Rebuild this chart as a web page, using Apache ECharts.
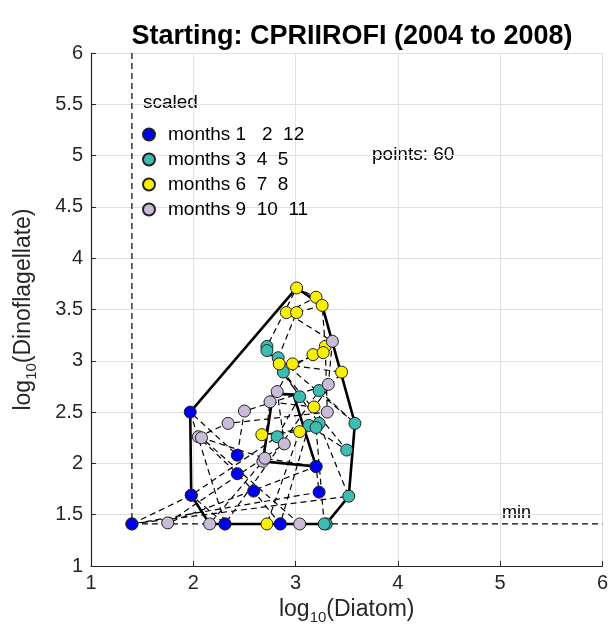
<!DOCTYPE html>
<html>
<head>
<meta charset="utf-8">
<script src="https://cdn.jsdelivr.net/npm/echarts@6/dist/echarts.min.js"></script>
<style>
html,body{margin:0;padding:0;background:#fff;}
#main{width:611px;height:633px;}
</style>
</head>
<body>
<div id="main"></div>
<script>
// log10 values, 5 years x 12 months, in time order
var diatom = [
  1.40, 1.98, 2.82, 3.04, 2.72, 3.01, 3.20, 2.91, 3.36, 3.32, 2.50, 2.43,
  1.97, 2.31, 3.23, 3.58, 2.83, 3.01, 3.26, 3.29, 3.31, 2.34, 2.05, 2.43,
  2.59, 2.85, 3.13, 3.50, 2.88, 3.17, 3.27, 2.97, 2.82, 2.89, 1.75, 3.20,
  3.23, 1.40, 3.52, 3.23, 2.72, 2.84, 3.45, 3.18, 2.75, 2.68, 2.16, 1.98,
  2.31, 2.85, 3.30, 3.28, 3.20, 2.67, 3.04, 2.72, 3.04, 2.08, 2.70, 3.20
];
var dino = [
  1.41, 1.69, 2.26, 2.65, 3.14, 3.71, 3.62, 3.47, 3.19, 2.77, 2.51, 2.08,
  2.50, 1.41, 2.71, 2.39, 3.03, 3.47, 3.54, 3.14, 2.50, 2.39, 2.26, 1.90,
  1.73, 1.41, 2.37, 2.13, 2.89, 3.06, 3.08, 2.97, 2.70, 2.19, 1.42, 1.97,
  1.72, 1.41, 1.68, 2.39, 3.10, 2.97, 2.89, 2.55, 2.60, 2.02, 1.41, 1.69,
  1.41, 1.41, 1.41, 1.41, 2.35, 2.28, 2.31, 1.41, 1.41, 2.25, 2.05, 1.97
];
var months = [1,2,3,4,5,6,7,8,9,10,11,12];

var seasonNames = ['months 1   2  12', 'months 3  4  5', 'months 6  7  8', 'months 9  10  11'];
var seasonMonths = [[1,2,12], [3,4,5], [6,7,8], [9,10,11]];
var seasonColors = ['#0000f0', '#3dbcb2', '#f8f000', '#c8bcd8'];

var hullX = [1.97, 3.01, 3.26, 3.58, 3.52, 3.30, 2.16, 1.98, 1.97];
var hullY = [2.50, 3.71, 3.54, 2.39, 1.68, 1.41, 1.41, 1.69, 2.50];
var innerX = [2.68, 2.78, 2.98, 3.20, 2.68];
var innerY = [2.02, 2.68, 2.67, 1.97, 2.02];

var minX = 1.40, minY = 1.41;
var xTicks = [1, 2, 3, 4, 5, 6];
var yTicks = [1, 1.5, 2, 2.5, 3, 3.5, 4, 4.5, 5, 5.5, 6];

var font = 'Liberation Sans, Arial, Helvetica, sans-serif';

function pairs(xs, ys) {
  var out = [];
  for (var i = 0; i < xs.length; i++) out.push([xs[i], ys[i]]);
  return out;
}

var track = pairs(diatom, dino);

var series = [];
series.push({
  type: 'line', name: 'track', data: track, symbol: 'none', silent: true, z: 1,
  lineStyle: {color: '#000', width: 1.2, type: [6, 4]}
});
series.push({
  type: 'line', name: 'minx', data: [[minX, minY], [xTicks[xTicks.length - 1], minY]], symbol: 'none', silent: true, z: 1,
  lineStyle: {color: '#000', width: 1.2, type: [6, 4]}
});
series.push({
  type: 'line', name: 'miny', data: [[minX, yTicks[yTicks.length - 1]], [minX, minY]], symbol: 'none', silent: true, z: 1,
  lineStyle: {color: '#000', width: 1.2, type: [6, 4]}
});
series.push({
  type: 'line', name: 'hull', data: pairs(hullX, hullY), symbol: 'none', silent: true, z: 2,
  lineStyle: {color: '#000', width: 2.6}
});
series.push({
  type: 'line', name: 'inner', data: pairs(innerX, innerY), symbol: 'none', silent: true, z: 2,
  lineStyle: {color: '#000', width: 2.6}
});

for (var s = 0; s < seasonNames.length; s++) {
  var pts = [];
  for (var i = 0; i < track.length; i++) {
    if (seasonMonths[s].indexOf(months[i % 12]) >= 0) pts.push(track[i]);
  }
  series.push({
    type: 'scatter', name: seasonNames[s], data: pts, symbol: 'circle', symbolSize: 12, z: 3,
    itemStyle: {color: seasonColors[s], borderColor: '#222', borderWidth: 1, opacity: 1}
  });
}

var nameRich = {
  a: {fontFamily: font, fontSize: 23, color: '#262626'},
  b: {fontFamily: font, fontSize: 15, color: '#262626', padding: [16, 0, 0, 0]}
};

var chart = echarts.init(document.getElementById('main'));
chart.setOption({
  animation: false,
  backgroundColor: '#fff',
  title: {
    text: 'Starting: CPRIIROFI (2004 to 2008)',
    left: 347, top: 18, textAlign: 'center',
    textStyle: {fontFamily: font, fontSize: 27, fontWeight: 'bold', color: '#000'}
  },
  legend: {
    data: seasonNames,
    orient: 'vertical', left: 137, top: 120,
    itemWidth: 12, itemHeight: 12, itemGap: 6,
    icon: 'circle',
    selectedMode: false,
    textStyle: {fontFamily: font, fontSize: 19, color: '#000', padding: [0, 0, 0, 8]}
  },
  grid: {left: 91, right: 8, top: 53, bottom: 67},
  xAxis: {
    type: 'value', min: 1, max: 6, interval: 1,
    name: '{a|log}{b|10}{a|(Diatom)}',
    nameLocation: 'middle', nameGap: 28,
    nameTextStyle: {rich: nameRich},
    axisLine: {show: true, onZero: false, lineStyle: {color: '#262626', width: 1.2}},
    axisTick: {show: true, inside: true, length: 5, lineStyle: {color: '#262626'}},
    axisLabel: {fontFamily: font, fontSize: 20, color: '#262626', margin: 7},
    splitLine: {show: true, lineStyle: {color: '#e0e0e0', width: 1}}
  },
  yAxis: {
    type: 'value', min: 1, max: 6, interval: 0.5,
    name: '{a|log}{b|10}{a|(Dinoflagellate)}',
    nameLocation: 'middle', nameGap: 52, nameRotate: 90,
    nameTextStyle: {rich: nameRich},
    axisLine: {show: true, onZero: false, lineStyle: {color: '#262626', width: 1.2}},
    axisTick: {show: true, inside: true, length: 5, lineStyle: {color: '#262626'}},
    axisLabel: {fontFamily: font, fontSize: 20, color: '#262626', margin: 8},
    splitLine: {show: true, lineStyle: {color: '#e0e0e0', width: 1}}
  },
  graphic: [
    {type: 'text', left: 143, top: 93, style: {text: 'scaled', fontFamily: font, fontSize: 19, fill: '#000'}},
    {type: 'text', left: 372, top: 145, style: {text: 'points: ' + track.length, fontFamily: font, fontSize: 19, fill: '#000'}},
    {type: 'text', left: 502, top: 504, style: {text: 'min', fontFamily: font, fontSize: 18, fill: '#000'}}
  ],
  series: series
});
</script>
</body>
</html>
